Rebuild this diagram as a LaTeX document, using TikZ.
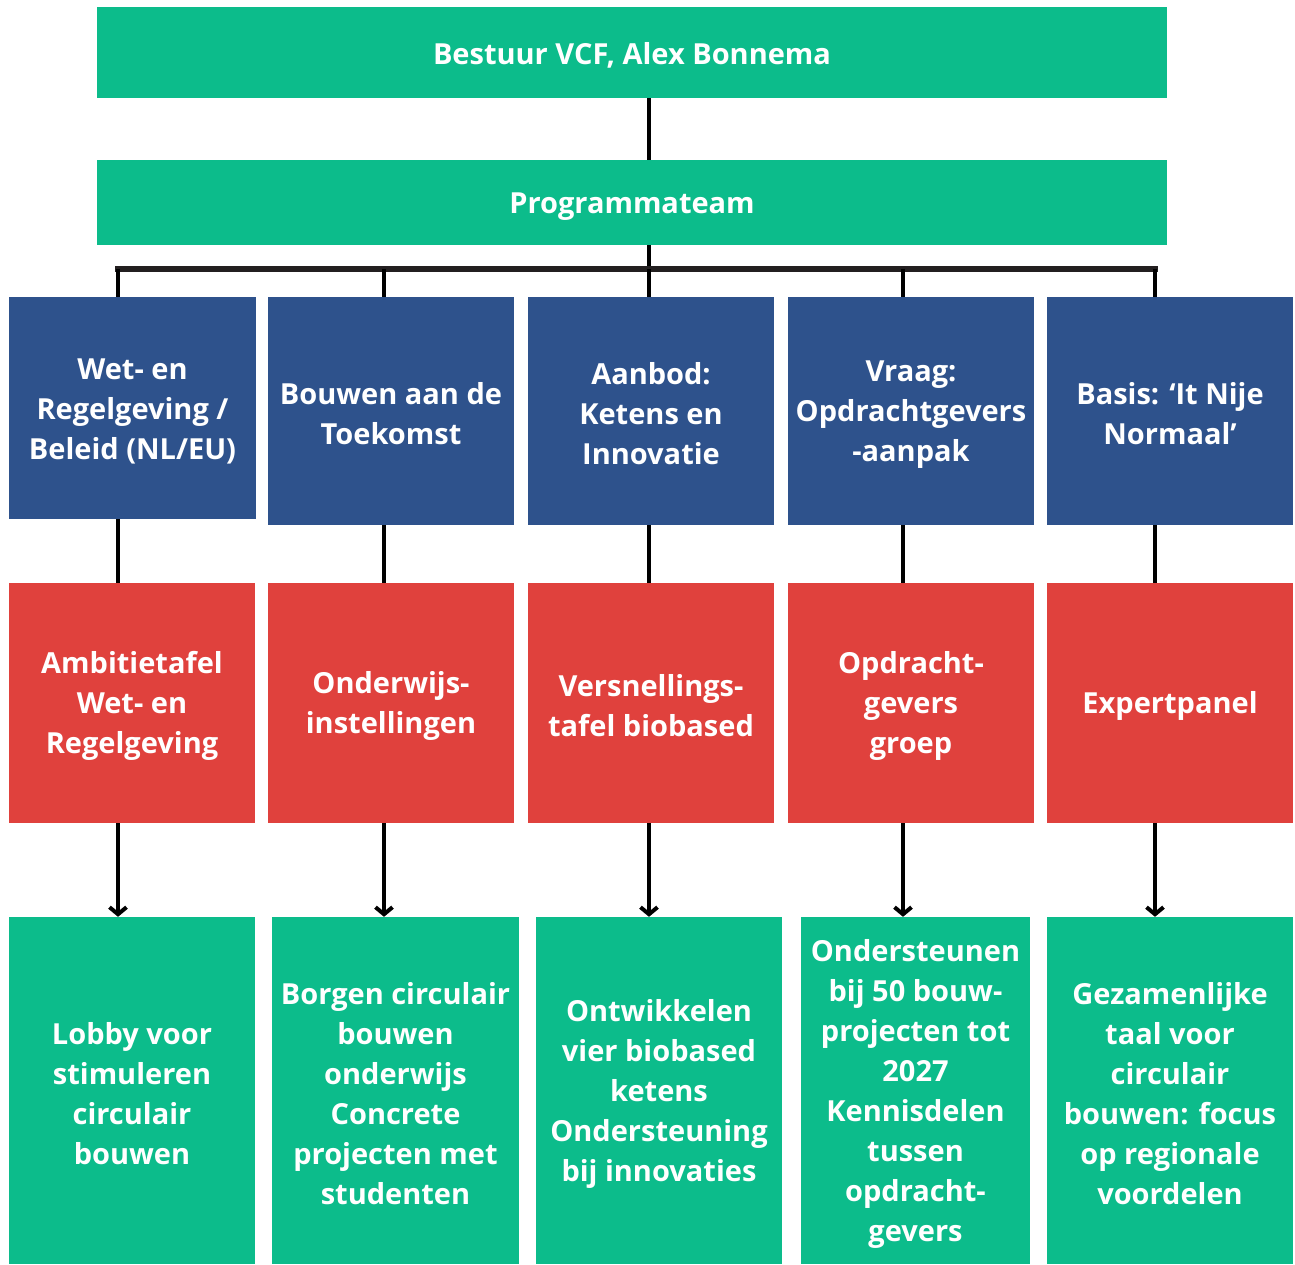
\documentclass[tikz,border=0pt]{standalone}
\usepackage{fontspec}
\setmainfont{Open Sans}
\usetikzlibrary{arrows.meta}
\begin{document}
\begin{tikzpicture}[x=1pt,y=-1pt]
\newcommand{\lift}{\rule{0pt}{28pt}}
\definecolor{vcfgreen}{RGB}{12,188,139}
\definecolor{vcfblue}{RGB}{46,82,140}
\definecolor{vcfred}{RGB}{224,65,61}
\definecolor{barcolor}{RGB}{35,31,32}
\tikzstyle{box}=[rectangle,inner sep=0pt,text=white,align=center,font=\fontsize{29}{40}\selectfont\bfseries]
\tikzstyle{head}=[box,fill=vcfgreen,minimum width=1070]
\tikzstyle{theme}=[box,fill=vcfblue,minimum width=246,minimum height=228]
\tikzstyle{table}=[box,fill=vcfred,minimum width=246,minimum height=240]
\tikzstyle{goal}=[box,fill=vcfgreen,minimum width=246,minimum height=347]
\tikzstyle{edge}=[line width=4pt,black]
\tikzstyle{bar}=[line width=6pt,barcolor,line cap=rect]
\tikzstyle{arrow}=[edge,-{Straight Barb[length=7pt,width=17pt]}]
\useasboundingbox (0,0) rectangle (1295,1265);
% top
\node[head,minimum height=91] (0) at (632,52.5) {\lift Bestuur VCF, Alex Bonnema};
\node[head,minimum height=85] (1) at (632,202.5) {\lift Programmateam};
% themes
\node[theme,minimum width=247,minimum height=222] (2) at (132.5,408) {\lift Wet- en\\Regelgeving /\\Beleid (NL/EU)};
\node[theme] (3) at (391,411) {\lift Bouwen aan de\\Toekomst};
\node[theme] (4) at (651,411) {\lift Aanbod:\\Ketens en\\Innovatie};
\node[theme] (5) at (911,411) {\lift Vraag:\\Opdrachtgevers\\-aanpak};
\node[theme] (6) at (1170,411) {\lift Basis: ‘It Nije\\Normaal’};
% tables
\node[table] (7) at (132,703) {\lift Ambitietafel\\Wet- en\\Regelgeving};
\node[table] (8) at (391,703) {\lift Onderwijs-\\instellingen};
\node[table] (9) at (651,703) {\lift Versnellings-\\tafel biobased};
\node[table] (10) at (911,703) {\lift Opdracht-\\gevers\\groep};
\node[table] (11) at (1170,703) {\lift Expertpanel};
% goals
\node[goal] (12) at (132,1090.5) {\lift Lobby voor\\stimuleren\\circulair\\bouwen};
\node[goal,minimum width=247] (13) at (395.5,1090.5) {\lift Borgen circulair\\bouwen\\onderwijs\\Concrete\\projecten met\\studenten};
\node[goal] (14) at (659,1090.5) {\lift Ontwikkelen\\vier biobased\\ketens\\Ondersteuning\\bij innovaties};
\node[goal,minimum width=229] (15) at (915.5,1090.5) {\lift Ondersteunen\\bij 50 bouw-\\projecten tot\\2027\\Kennisdelen\\tussen\\opdracht-\\gevers};
\node[goal] (16) at (1170,1090.5) {\lift Gezamenlijke\\taal voor\\circulair\\bouwen: focus\\op regionale\\voordelen};
% columns on the bar
\coordinate (c1) at (118,269);
\coordinate (c2) at (384,269);
\coordinate (c3) at (649,269);
\coordinate (c4) at (903,269);
\coordinate (c5) at (1155,269);
\draw[edge] (0.south -| c3) -- (1.north -| c3);
\draw[edge] (1.south -| c3) -- (c3);
\draw[bar] (c1) -- (c5);
\foreach \c/\t/\r/\g in {c1/2/7/12,c2/3/8/13,c3/4/9/14,c4/5/10/15,c5/6/11/16}{
  \draw[edge] (\c) -- (\t.north -| \c);
  \draw[edge] (\t.south -| \c) -- (\r.north -| \c);
  \draw[arrow] (\r.south -| \c) -- (\g.north -| \c);
}
\end{tikzpicture}
\end{document}
